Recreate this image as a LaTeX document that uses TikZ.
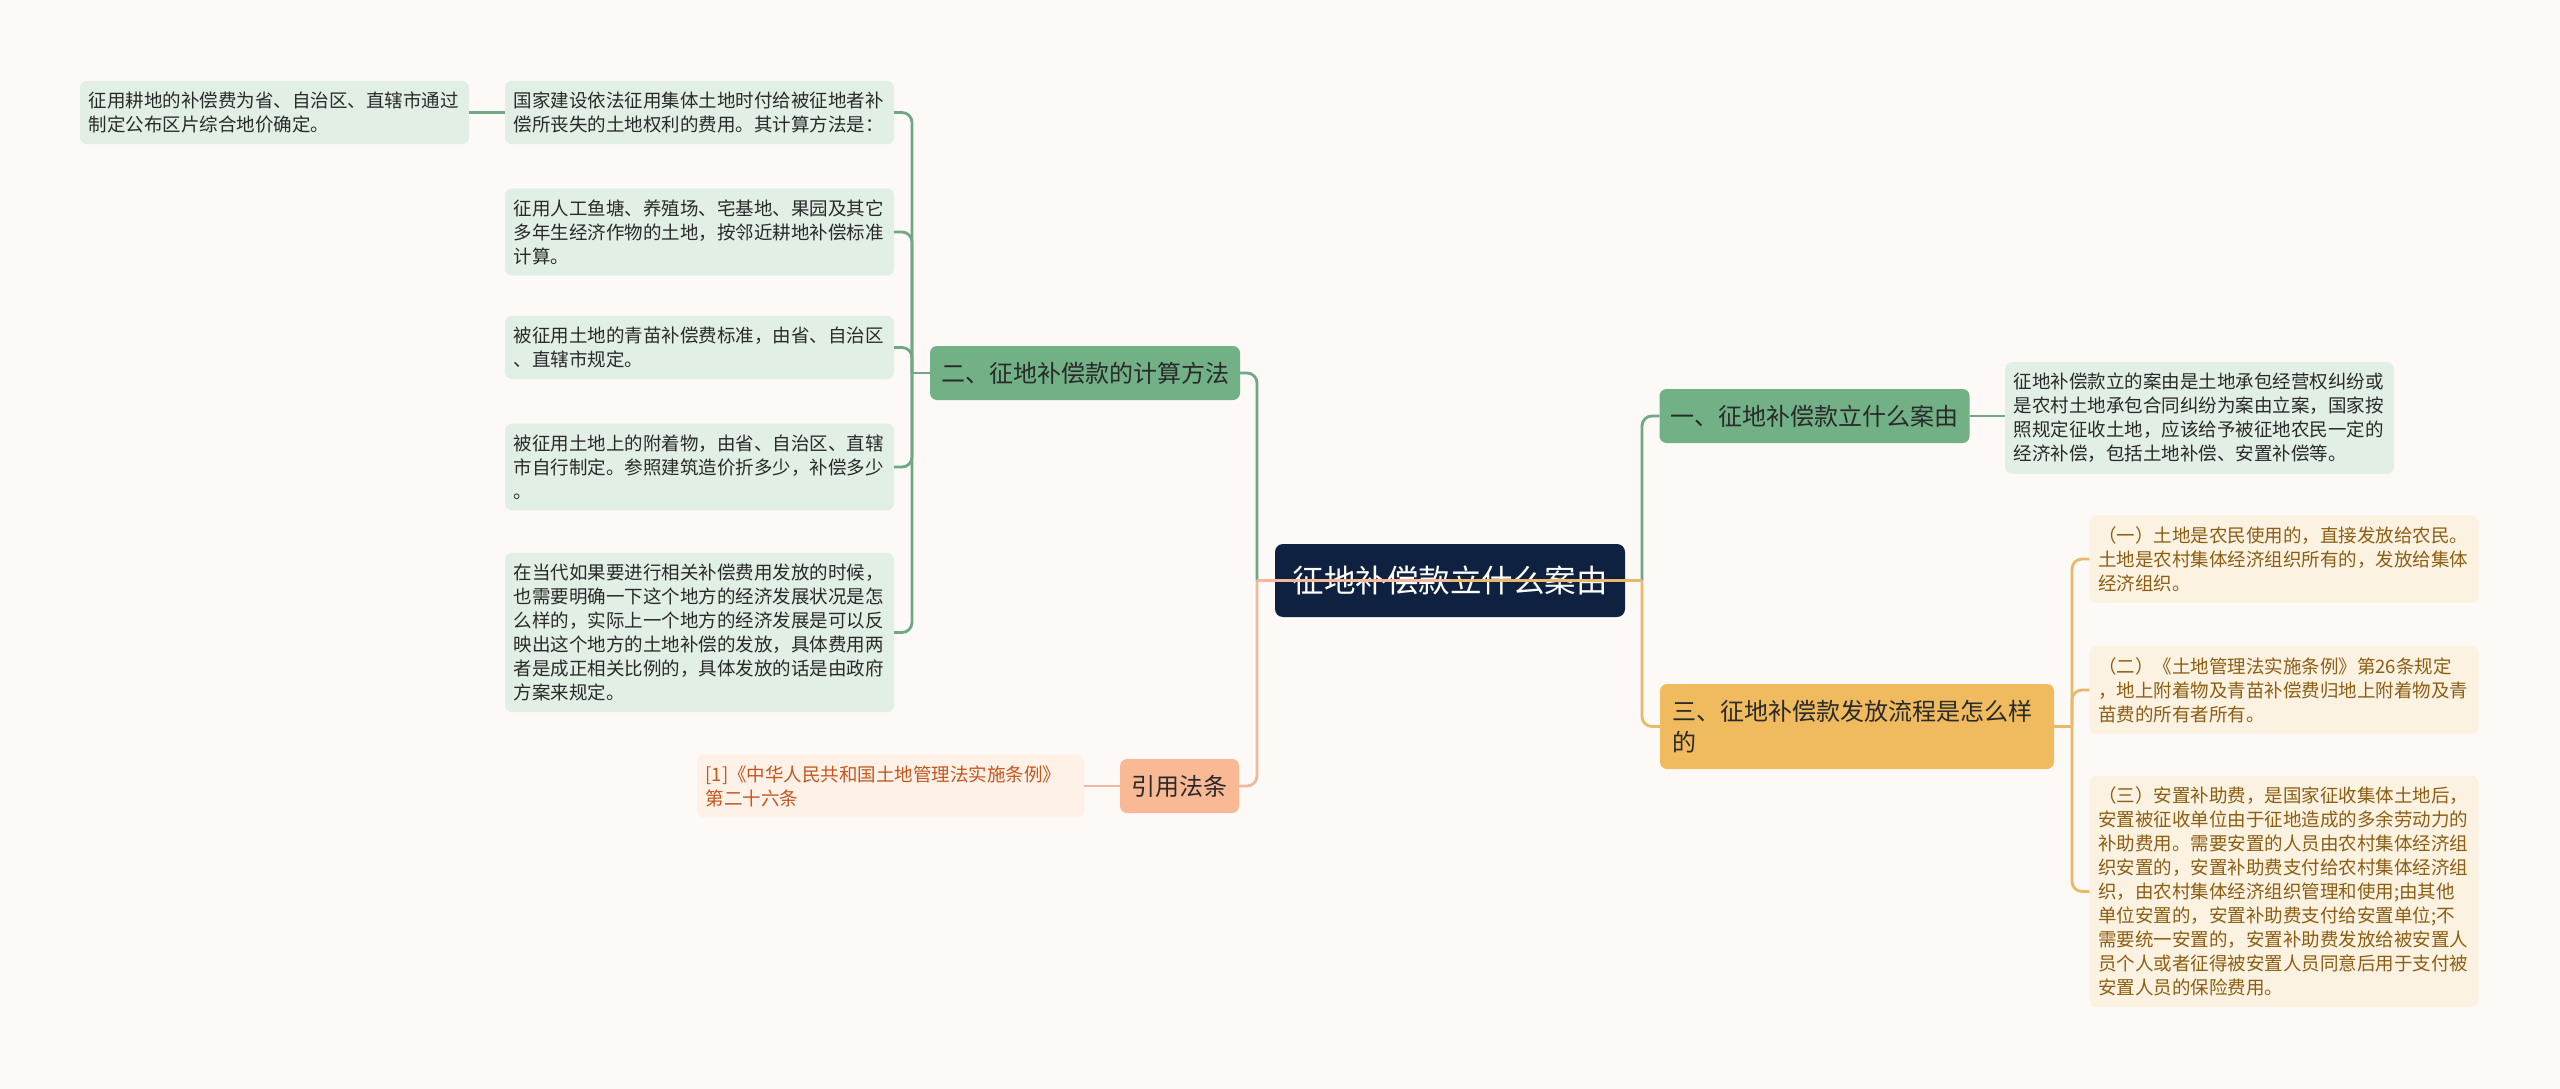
\documentclass[tikz,border=0pt]{standalone}
\usepackage{fontspec}
\setmainfont{Noto Sans CJK SC}
\setlength{\parindent}{0pt}
\definecolor{bgc}{HTML}{FDF9F7}
\definecolor{rootc}{HTML}{0F2140}
\definecolor{inkc}{HTML}{2A2A2A}
\definecolor{grnc}{HTML}{72B086}
\definecolor{grnleaf}{HTML}{E2EFE5}
\definecolor{grnline}{HTML}{6FA882}
\definecolor{gldc}{HTML}{F0BA5E}
\definecolor{gldleaf}{HTML}{FCF2E2}
\definecolor{gldline}{HTML}{E9B868}
\definecolor{gldtext}{HTML}{8C5E12}
\definecolor{pchc}{HTML}{F9B994}
\definecolor{pchleaf}{HTML}{FDF1E8}
\definecolor{pchline}{HTML}{F2B89B}
\definecolor{pchtext}{HTML}{C5561C}
\tikzset{
  rootnode/.style={fill=rootc, text=white, rounded corners=8pt,
    minimum width=350pt, minimum height=73pt, font=\fontsize{31.5}{36}\selectfont},
  branchnode/.style={rounded corners=7pt, text=inkc, minimum height=54pt,
    inner xsep=11pt, font=\fontsize{24}{31}\selectfont},
  leafnode/.style={rounded corners=7pt, text=inkc, text width=372pt, align=left,
    inner xsep=8.5pt, inner ysep=11pt, font=\fontsize{18.5}{24}\selectfont},
  link/.style={line width=2.8pt},
  elbow/.style={link, rounded corners=10pt},
}
\begin{document}
\begin{tikzpicture}[x=1pt, y=-1pt]
\useasboundingbox (0,0) rectangle (2560,1089);
\fill[bgc] (0,0) rectangle (2560,1089);
% main topic and branches
\node[rootnode] (root) at (1450,580.5) {征地补偿款立什么案由};
\node[branchnode, fill=grnc, minimum width=309pt] (b1) at (1814.5,416) {一、征地补偿款立什么案由};
\node[branchnode, fill=grnc, minimum width=308pt] (b2) at (1085,373) {二、征地补偿款的计算方法};
\node[branchnode, fill=gldc, text width=370pt, align=left, inner xsep=12pt,
  minimum height=85pt] (b3) at (1857,726.5) {三、征地补偿款发放流程是怎么样\\的};
\node[branchnode, fill=pchc, minimum width=119pt] (b4) at (1179.5,786) {引用法条};
% leaves of branch one
\node[leafnode, fill=grnleaf] (a1) at (2199.5,418)
  {征地补偿款立的案由是土地承包经营权纠纷或\\是农村土地承包合同纠纷为案由立案，国家按\\照规定征收土地，应该给予被征地农民一定的\\经济补偿，包括土地补偿、安置补偿等。};
% leaves of branch two
\node[leafnode, fill=grnleaf] (c1) at (699.5,112.5)
  {国家建设依法征用集体土地时付给被征地者补\\偿所丧失的土地权利的费用。其计算方法是：};
\node[leafnode, fill=grnleaf] (c2) at (699.5,232)
  {征用人工鱼塘、养殖场、宅基地、果园及其它\\多年生经济作物的土地，按邻近耕地补偿标准\\计算。};
\node[leafnode, fill=grnleaf] (c3) at (699.5,347.5)
  {被征用土地的青苗补偿费标准，由省、自治区\\、直辖市规定。};
\node[leafnode, fill=grnleaf] (c4) at (699.5,467)
  {被征用土地上的附着物，由省、自治区、直辖\\市自行制定。参照建筑造价折多少，补偿多少\\。};
\node[leafnode, fill=grnleaf] (c5) at (699.5,632.5)
  {在当代如果要进行相关补偿费用发放的时候，\\也需要明确一下这个地方的经济发展状况是怎\\么样的，实际上一个地方的经济发展是可以反\\映出这个地方的土地补偿的发放，具体费用两\\者是成正相关比例的，具体发放的话是由政府\\方案来规定。};
\node[leafnode, fill=grnleaf] (c0) at (274.5,112.5)
  {征用耕地的补偿费为省、自治区、直辖市通过\\制定公布区片综合地价确定。};
% leaves of branch three
\node[leafnode, fill=gldleaf, text=gldtext] (d1) at (2284,559)
  {（一）土地是农民使用的，直接发放给农民。\\土地是农村集体经济组织所有的，发放给集体\\经济组织。};
\node[leafnode, fill=gldleaf, text=gldtext] (d2) at (2284,690)
  {（二）《土地管理法实施条例》第26条规定\\，地上附着物及青苗补偿费归地上附着物及青\\苗费的所有者所有。};
\node[leafnode, fill=gldleaf, text=gldtext] (d3) at (2284,891.5)
  {（三）安置补助费，是国家征收集体土地后，\\安置被征收单位由于征地造成的多余劳动力的\\补助费用。需要安置的人员由农村集体经济组\\织安置的，安置补助费支付给农村集体经济组\\织，由农村集体经济组织管理和使用;由其他\\单位安置的，安置补助费支付给安置单位;不\\需要统一安置的，安置补助费发放给被安置人\\员个人或者征得被安置人员同意后用于支付被\\安置人员的保险费用。};
% cited law
\node[leafnode, fill=pchleaf, text=pchtext, text width=370pt] (e1) at (890.5,786)
  {[1]《中华人民共和国土地管理法实施条例》\\第二十六条};
% junctions
\coordinate (jl) at (1257,580.5);
\coordinate (jr) at (1642,580.5);
\coordinate (jb2) at (912,373);
\coordinate (jb3) at (2072,726.5);
% connectors
\draw[link, grnline] (b1.east) -- (b1.east -| a1.west);
\draw[link, grnline] (b2.west) -- (jb2);
\foreach \leaf in {c1,c2,c3,c4,c5}
  \draw[elbow, grnline] (jb2) |- (\leaf.east);
\draw[link, grnline] (c1.west) -- (c0.east);
\draw[link, gldline] (b3.east) -- (jb3);
\foreach \leaf in {d1,d2,d3}
  \draw[elbow, gldline] (jb3) |- (\leaf.west);
\draw[link, pchline] (b4.west) -- (e1.east);
\draw[link, grnline] (root.center) -- (jl);
\draw[elbow, grnline] (jl) |- (b2.east);
\draw[link, pchline] (root.center) -- (jl);
\draw[elbow, pchline] (jl) |- (b4.east);
\draw[link, grnline] (root.center) -- (jr);
\draw[elbow, grnline] (jr) |- (b1.west);
\draw[link, gldline] (root.center) -- (jr);
\draw[elbow, gldline] (jr) |- (b3.west);
\end{tikzpicture}
\end{document}
